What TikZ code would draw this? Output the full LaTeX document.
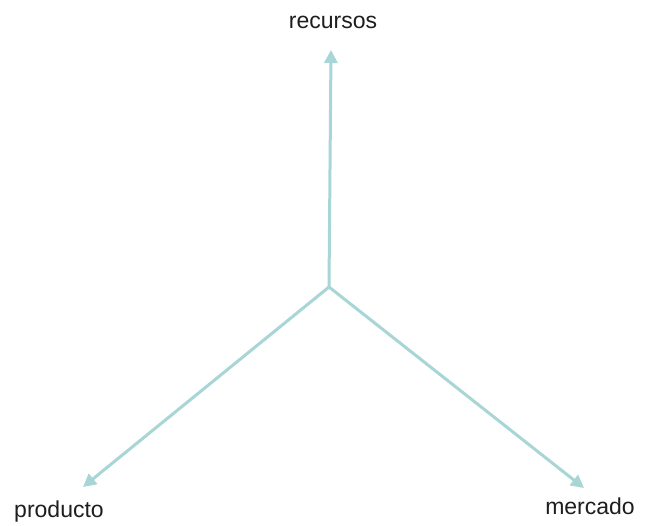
\documentclass[tikz,border=0pt]{standalone}
\usepackage{fontspec}
\setmainfont{Liberation Sans}
\usetikzlibrary{arrows.meta}
\definecolor{arrowc}{RGB}{168,214,214}
\definecolor{textc}{RGB}{30,30,30}
\tikzset{
  axis/.style={draw=arrowc, line width=3pt, -{Triangle[length=13pt,width=13pt]}},
  lbl/.style={text=textc, font=\fontsize{23}{25}\selectfont, inner sep=0pt}
}
\begin{document}
\begin{tikzpicture}[x=1pt,y=-1pt]
\useasboundingbox (0,0) rectangle (647,526);
\fill[white] (0,0) rectangle (647,526);
\coordinate (c) at (329,287);
\coordinate (t) at (331,50);
\coordinate (l) at (83,487);
\coordinate (r) at (584,488);
\draw[axis] (c) -- (t);
\draw[axis] (c) -- (l);
\draw[axis] (c) -- (r);
\node[lbl] (recursos) at (333,22) {recursos};
\node[lbl] (producto) at (59,512) {producto};
\node[lbl] (mercado) at (590,506) {mercado};
\end{tikzpicture}
\end{document}
